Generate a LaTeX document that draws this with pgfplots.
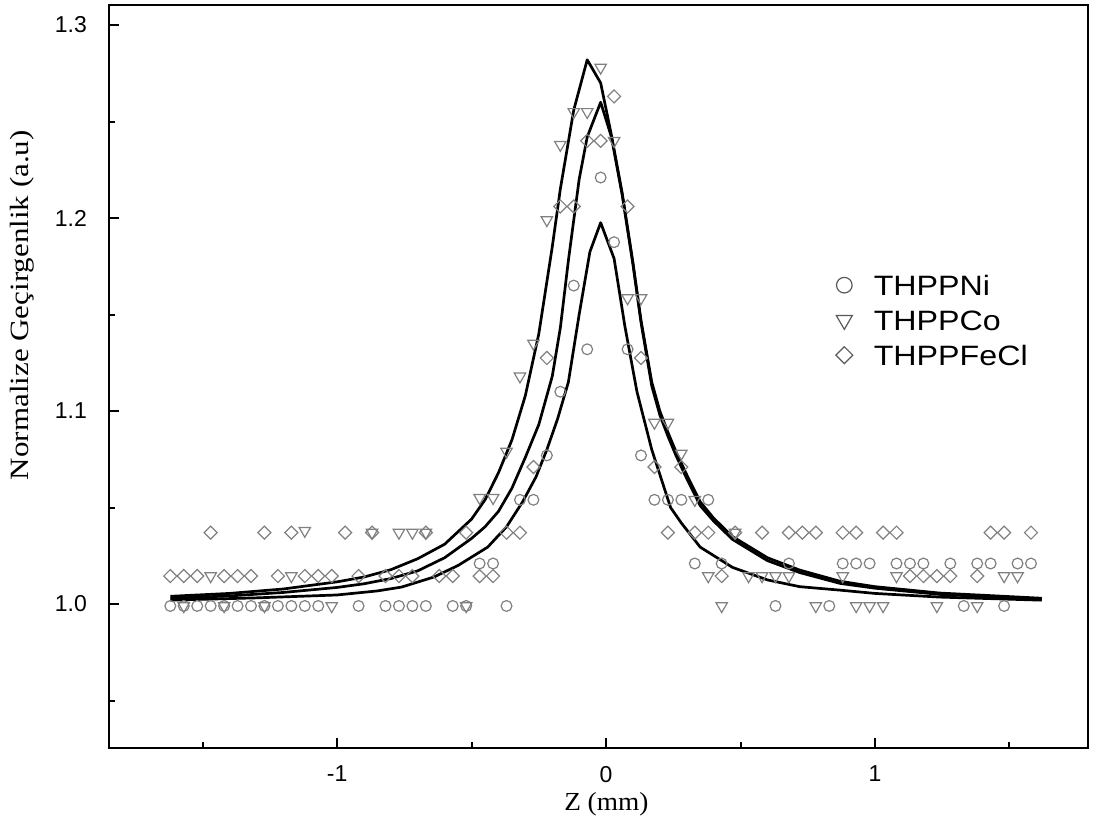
\documentclass[border=0pt]{standalone}
\usepackage{fontspec}
\setmainfont{Liberation Sans}
\newfontfamily\tnr{Liberation Serif}
\usepackage{pgfplots}
\pgfplotsset{compat=1.18}
\definecolor{mk}{gray}{0.5}
\definecolor{lg}{gray}{0.35}
\begin{document}
\begin{tikzpicture}
\begin{axis}[
 scale only axis, width=489.5pt, height=371.5pt,
 xmin=-1.848, xmax=1.792, ymin=0.9254, ymax=1.3104,
 axis line style={line width=1pt},
 tick pos=left, tick align=inside,
 major tick length=5pt, minor tick length=3pt,
 tick style={line width=1pt, black},
 xtick={-1,0,1}, xticklabels={-1,0,1},
 minor xtick={-1.5,-0.5,0.5,1.5},
 ytick={1.0,1.1,1.2,1.3}, yticklabels={1.0,1.1,1.2,1.3},
 minor ytick={0.95,1.05,1.15,1.25},
 tick label style={font=\fontsize{11.5}{13}\selectfont},
 xticklabel style={yshift=-5.5pt},
 yticklabel style={xshift=-7.5pt},
 xlabel={\scalebox{1.05}[1]{Z (mm)}}, ylabel={\scalebox{1}[0.85]{Normalize Geçirgenlik (a.u)}},
 label style={font=\tnr\fontsize{13}{15}\selectfont},
 ylabel style={font=\tnr\fontsize{15.5}{17}\selectfont},
 xlabel style={at={(axis description cs:0.508,0)}, anchor=center, yshift=-28pt},
 ylabel style={at={(axis description cs:-0.0889,0.596)}, anchor=center},
 legend style={draw=none, fill=none, at={(rel axis cs:0.742,0.6396)}, anchor=north west,
   font=\fontsize{14}{17}\selectfont, inner sep=0pt, row sep=5.5pt, column sep=9.5pt,
   nodes={inner sep=1pt, text height=10pt, text depth=0pt}},
 legend cell align=left,
 legend image code/.code={\draw[#1] plot coordinates {(0pt,0pt)};},
]
\coordinate (SW) at (rel axis cs:0,0);
\coordinate (NE) at (rel axis cs:1,1);
% THPPNi
\addplot[only marks, mark=o, mark size=2.7pt, mk, line width=0.6pt, forget plot] coordinates {
(-1.62,0.999) (-1.57,0.999) (-1.52,0.999) (-1.47,0.999) (-1.42,0.999) (-1.37,0.999) (-1.32,0.999) (-1.27,0.999) (-1.22,0.999) (-1.17,0.999) (-1.12,0.999) (-1.07,0.999) (-0.92,0.999) (-0.82,0.999) (-0.77,0.999) (-0.72,0.999) (-0.67,0.999) (-0.57,0.999) (-0.52,0.999) (-0.47,1.021) (-0.42,1.021) (-0.37,0.999) (-0.32,1.054) (-0.27,1.054) (-0.22,1.077) (-0.17,1.110) (-0.12,1.165) (-0.07,1.132) (-0.02,1.221) (0.03,1.1875) (0.08,1.132) (0.13,1.077) (0.18,1.054) (0.23,1.054) (0.28,1.054) (0.33,1.021) (0.38,1.054) (0.43,1.021) (0.63,0.999) (0.68,1.021) (0.83,0.999) (0.88,1.021) (0.93,1.021) (0.98,1.021) (1.08,1.021) (1.13,1.021) (1.18,1.021) (1.28,1.021) (1.33,0.999) (1.38,1.021) (1.43,1.021) (1.48,0.999) (1.53,1.021) (1.58,1.021)
};
% THPPCo
\addplot[only marks, mark=triangle, mark size=3.3pt, mark options={rotate=180}, mk, line width=0.6pt, forget plot] coordinates {
(-1.57,0.999) (-1.47,1.0145) (-1.42,0.999) (-1.27,0.999) (-1.17,1.0145) (-1.12,1.038) (-1.02,0.999) (-0.87,1.037) (-0.77,1.037) (-0.72,1.037) (-0.67,1.037) (-0.52,0.999) (-0.47,1.055) (-0.42,1.055) (-0.37,1.079) (-0.32,1.118) (-0.27,1.135) (-0.22,1.199) (-0.17,1.238) (-0.12,1.255) (-0.07,1.255) (-0.02,1.278) (0.03,1.240) (0.08,1.1585) (0.13,1.1585) (0.18,1.094) (0.23,1.094) (0.28,1.078) (0.33,1.054) (0.38,1.0145) (0.43,0.999) (0.48,1.037) (0.53,1.0145) (0.58,1.0145) (0.63,1.0145) (0.68,1.0145) (0.78,0.999) (0.88,1.0145) (0.93,0.999) (0.98,0.999) (1.03,0.999) (1.08,1.0145) (1.23,0.999) (1.38,0.999) (1.48,1.0145) (1.53,1.0145)
};
% THPPFeCl
\addplot[only marks, mark=square, mark size=2.3pt, mark options={rotate=45}, mk, line width=0.6pt, forget plot] coordinates {
(-1.62,1.0145) (-1.57,1.0145) (-1.52,1.0145) (-1.47,1.037) (-1.42,1.0145) (-1.37,1.0145) (-1.32,1.0145) (-1.27,1.037) (-1.22,1.0145) (-1.17,1.037) (-1.12,1.0145) (-1.07,1.0145) (-1.02,1.0145) (-0.97,1.037) (-0.92,1.0145) (-0.87,1.037) (-0.82,1.0145) (-0.77,1.0145) (-0.72,1.0145) (-0.67,1.037) (-0.62,1.0145) (-0.57,1.0145) (-0.52,1.037) (-0.47,1.0145) (-0.42,1.0145) (-0.37,1.037) (-0.32,1.037) (-0.27,1.071) (-0.22,1.1275) (-0.17,1.206) (-0.12,1.206) (-0.07,1.240) (-0.02,1.240) (0.03,1.263) (0.08,1.206) (0.13,1.1275) (0.18,1.071) (0.23,1.037) (0.28,1.071) (0.33,1.037) (0.38,1.037) (0.43,1.0145) (0.48,1.037) (0.58,1.037) (0.68,1.037) (0.73,1.037) (0.78,1.037) (0.88,1.037) (0.93,1.037) (1.03,1.037) (1.08,1.037) (1.13,1.0145) (1.18,1.0145) (1.23,1.0145) (1.28,1.0145) (1.38,1.0145) (1.43,1.037) (1.48,1.037) (1.58,1.037)
};
% fitted curves
\addplot[black, line width=1.35pt, line join=round, forget plot] coordinates {
(-1.62,1.0040) (-1.40,1.0055) (-1.20,1.0078) (-1.00,1.0115) (-0.90,1.0140) (-0.80,1.0178) (-0.70,1.0235) (-0.60,1.0310) (-0.50,1.0440) (-0.45,1.0540) (-0.40,1.0680) (-0.35,1.0850) (-0.30,1.1080) (-0.25,1.1400) (-0.20,1.1850) (-0.17,1.2150) (-0.12,1.2560) (-0.07,1.2820) (-0.02,1.2700) (0.02,1.2430) (0.06,1.2130) (0.10,1.1770) (0.13,1.1470) (0.17,1.1150) (0.20,1.1000) (0.23,1.0890) (0.26,1.0790) (0.30,1.0670) (0.35,1.0530) (0.40,1.0445) (0.47,1.0350) (0.60,1.0240) (0.72,1.0176) (0.87,1.0118) (1.00,1.0090) (1.24,1.0057) (1.62,1.0030)
};
\addplot[black, line width=1.35pt, line join=round, forget plot] coordinates {
(-1.62,1.0030) (-1.40,1.0042) (-1.20,1.0060) (-1.00,1.0086) (-0.90,1.0105) (-0.80,1.0132) (-0.70,1.0172) (-0.60,1.0240) (-0.50,1.0340) (-0.45,1.0400) (-0.40,1.0480) (-0.35,1.0600) (-0.30,1.0760) (-0.25,1.0930) (-0.20,1.1180) (-0.17,1.1430) (-0.14,1.1780) (-0.10,1.2200) (-0.07,1.2420) (-0.02,1.2600) (0.02,1.2420) (0.06,1.2120) (0.10,1.1760) (0.13,1.1460) (0.17,1.1130) (0.20,1.0980) (0.23,1.0870) (0.26,1.0770) (0.30,1.0650) (0.35,1.0510) (0.40,1.0430) (0.47,1.0335) (0.60,1.0225) (0.72,1.0163) (0.87,1.0107) (1.00,1.0082) (1.24,1.0050) (1.62,1.0025)
};
\addplot[black, line width=1.35pt, line join=round, forget plot] coordinates {
(-1.62,1.0020) (-1.30,1.0032) (-1.00,1.0047) (-0.85,1.0068) (-0.76,1.0088) (-0.64,1.0140) (-0.55,1.0200) (-0.44,1.0295) (-0.37,1.0400) (-0.31,1.0530) (-0.26,1.0660) (-0.22,1.0800) (-0.18,1.0960) (-0.14,1.1150) (-0.10,1.1500) (-0.06,1.1825) (-0.02,1.1976) (0.03,1.1790) (0.07,1.1440) (0.115,1.1100) (0.17,1.0800) (0.24,1.0500) (0.28,1.0420) (0.35,1.0295) (0.47,1.0190) (0.60,1.0125) (0.72,1.0090) (0.87,1.0072) (1.00,1.0055) (1.24,1.0036) (1.62,1.0020)
};
\addlegendimage{only marks, mark=o, mark size=3.9pt, lg, line width=0.6pt}
\addlegendentry{\scalebox{1.15}[1]{THPPNi}}
\addlegendimage{only marks, mark=triangle, mark size=4.6pt, mark options={rotate=180}, lg, line width=0.6pt}
\addlegendentry{\scalebox{1.15}[1]{THPPCo}}
\addlegendimage{only marks, mark=square, mark size=3pt, mark options={rotate=45}, lg, line width=0.6pt}
\addlegendentry{\scalebox{1.15}[1]{THPPFeCl}}
\end{axis}
\pgfresetboundingbox
\path[use as bounding box] ([shift={(-54.5pt,-41pt)}]SW) rectangle ([shift={(5.5pt,2.5pt)}]NE);
\end{tikzpicture}
\end{document}
